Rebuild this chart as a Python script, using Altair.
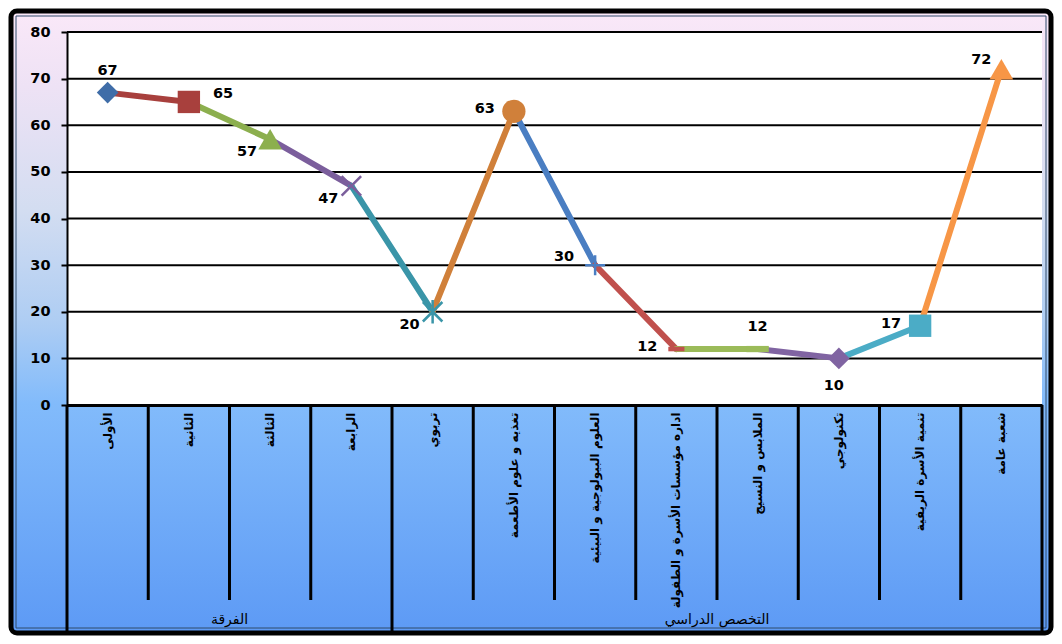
import altair as alt
import pandas as pd

# ---------------- data ----------------
categories = [
    "الأولى", "الثانية", "الثالثة", "الرابعة",
    "تربوي", "تغذيه و علوم الأطعمة", "العلوم البيولوجية و البيئية",
    "اداره مؤسسات الأسرة و الطفولة", "الملابس و النسيج", "تكنولوجي",
    "تنمية الأسرة الريفية", "شعبة عامة",
]
values = [67, 65, 57, 47, 20, 63, 30, 12, 12, 10, 17, 72]
group_names = ["الفرقة", "التخصص الدراسي"]
group_sizes = [4, 8]
point_colors = ["#3F6DA8", "#A8403D", "#8CAF4E", "#7B5E9C", "#3A95A8", "#D0803A",
                "#4A7EC2", "#C0504D", "#9BBB59", "#8064A2", "#4BACC6", "#F79646"]
marker_kinds = ["diamond", "square", "triangle", "x", "star", "circle",
                "plus", "dash_s", "dash_l", "diamond", "square", "triangle"]
label_place = ["above", "right", "lower_left", "lower_left", "lower_left", "left",
               "upper_left", "left", "above", "below", "left", "upper_left_near"]
y_ticks = [0, 10, 20, 30, 40, 50, 60, 70, 80]

# ---------------- styles ----------------
W, H = 975, 373
FONT = "DejaVu Sans"
MARKERS = {  # kind -> (shape, filled, size)
    "diamond": ("diamond", True, 470),
    "square": ("square", True, 500),
    "triangle": ("triangle-up", True, 560),
    "circle": ("circle", True, 540),
    "x": ("M-1,-1L1,1M-1,1L1,-1", False, 380),
    "star": ("M-1,-1L1,1M-1,1L1,-1M0,-1.2L0,1.2", False, 380),
    "plus": ("M-1,0L1,0M0,-1L0,1", False, 400),
    "dash_s": ("M-1,-0.28L1,-0.28L1,0.28L-1,0.28Z", True, 260),
    "dash_l": ("M-1,-0.28L1,-0.28L1,0.28L-1,0.28Z", True, 500),
}
PLACES = {  # key -> (dx, dy, align)
    "above": (0, -22, "center"),
    "below": (-5, 28, "center"),
    "right": (24, -8, "left"),
    "lower_left": (-13, 13, "right"),
    "left": (-19, -2, "right"),
    "upper_left": (-21, -8, "right"),
    "upper_left_near": (-10, -9, "right"),
}

# ---------------- tables ----------------
pts = pd.DataFrame({
    "cat": categories,
    "value": values,
    "color": point_colors,
    "shape": [MARKERS[k][0] for k in marker_kinds],
    "filled": [MARKERS[k][1] for k in marker_kinds],
    "size": [MARKERS[k][2] for k in marker_kinds],
    "place": label_place,
    "label": [str(v) for v in values],
})

seg_rows = []
for i in range(1, len(values)):
    for j, o in ((i - 1, 0), (i, 1)):
        seg_rows.append({"seg": i, "cat": categories[j], "value": values[j],
                         "color": point_colors[i], "ord": o})
segs = pd.DataFrame(seg_rows)

one = pd.DataFrame({"k": [0]})
grid = pd.DataFrame({"value": y_ticks[1:]})

starts = [0]
for s in group_sizes[:-1]:
    starts.append(starts[-1] + s)
group_bounds = pd.DataFrame({"cat": [categories[s] for s in starts]})
end_bound = pd.DataFrame({"cat": [categories[-1]]})
inner_div = pd.DataFrame({"cat": [categories[i] for i in range(1, len(categories)) if i not in starts]})
group_lab = pd.DataFrame({
    "cat": [categories[s + n // 2] for s, n in zip(starts, group_sizes)],
    "name": group_names,
})

x_scale = alt.Scale(type="band", domain=categories, paddingInner=0, paddingOuter=0)
y_scale = alt.Scale(domain=[0, 80], nice=False)

X = alt.X("cat:N", sort=categories, scale=x_scale,
          axis=alt.Axis(title=None, labelAngle=270, labelAlign="right", labelBaseline="middle",
                        labelFont=FONT, labelFontSize=12, labelFontWeight="bold",
                        labelColor="black", labelPadding=7, labelLimit=400, ticks=False,
                        domainColor="black", domainWidth=3, zindex=1))
Y = alt.Y("value:Q", scale=y_scale,
          axis=alt.Axis(title=None, values=y_ticks, grid=False, labelFont=FONT,
                        labelFontWeight="bold", labelFontSize=14.5, labelColor="black",
                        labelPadding=11, tickColor="black", tickWidth=2, tickSize=6,
                        domainColor="black", domainWidth=2, zindex=1))

# ---------------- decoration ----------------
frame = alt.Chart(one).mark_rect(
    fill=alt.Gradient(gradient="linear", x1=0, x2=0, y1=0, y2=1, stops=[
        alt.GradientStop(offset=0, color="#FAE8F8"),
        alt.GradientStop(offset=0.12, color="#EEE2F5"),
        alt.GradientStop(offset=0.32, color="#D3DDF1"),
        alt.GradientStop(offset=0.5, color="#AECDF3"),
        alt.GradientStop(offset=0.63, color="#82BBFB"),
        alt.GradientStop(offset=1, color="#5D9AF5"),
    ]),
    stroke="black", strokeWidth=5, cornerRadius=6,
).encode(x=alt.value(-56), x2=alt.value(W + 9), y=alt.value(-21), y2=alt.value(H + 228))

inner = alt.Chart(one).mark_rect(fillOpacity=0, stroke="#2E4A6B", strokeWidth=1).encode(
    x=alt.value(-51), x2=alt.value(W + 4), y=alt.value(-16), y2=alt.value(H + 223))

plot_bg = alt.Chart(one).mark_rect(fill="white").encode(
    x=alt.value(0), x2=alt.value(W), y=alt.value(0), y2=alt.value(H))

grid_rules = alt.Chart(grid).mark_rule(color="black", strokeWidth=2).encode(
    y=alt.Y("value:Q", scale=y_scale), x=alt.value(0), x2=alt.value(W))

div_short = alt.Chart(inner_div).mark_rule(color="black", strokeWidth=3).encode(
    x=alt.X("cat:N", sort=categories, scale=x_scale, bandPosition=0),
    y=alt.value(H), y2=alt.value(H + 195))
div_long = alt.Chart(group_bounds).mark_rule(color="black", strokeWidth=3).encode(
    x=alt.X("cat:N", sort=categories, scale=x_scale, bandPosition=0),
    y=alt.value(H), y2=alt.value(H + 227))
div_end = alt.Chart(end_bound).mark_rule(color="black", strokeWidth=3).encode(
    x=alt.X("cat:N", sort=categories, scale=x_scale, bandPosition=1),
    y=alt.value(H), y2=alt.value(H + 227))
grp_text = alt.Chart(group_lab).mark_text(font=FONT, fontSize=14, color="black",
                                          baseline="middle", align="center").encode(
    x=alt.X("cat:N", sort=categories, scale=x_scale, bandPosition=0),
    y=alt.value(H + 215), text="name:N")

# ---------------- data marks ----------------
lines = alt.Chart(segs).mark_line(strokeWidth=6, strokeCap="round").encode(
    x=alt.X("cat:N", sort=categories, scale=x_scale),
    y=alt.Y("value:Q", scale=y_scale),
    detail="seg:N", order="ord:Q",
    color=alt.Color("color:N", scale=None))

base_pts = alt.Chart(pts).encode(
    x=alt.X("cat:N", sort=categories, scale=x_scale),
    y=alt.Y("value:Q", scale=y_scale),
    shape=alt.Shape("shape:N", scale=None),
    size=alt.Size("size:Q", scale=None),
    color=alt.Color("color:N", scale=None))
filled_pts = base_pts.mark_point(filled=True, opacity=1).transform_filter("datum.filled")
stroked_pts = base_pts.mark_point(filled=False, opacity=1, strokeWidth=2.5).transform_filter("!datum.filled")

label_layers = []
for key, (dx, dy, al) in PLACES.items():
    label_layers.append(
        alt.Chart(pts).mark_text(dx=dx, dy=dy, align=al, baseline="middle", font=FONT,
                                 fontSize=14.5, fontWeight="bold", color="black")
        .encode(x=alt.X("cat:N", sort=categories, scale=x_scale),
                y=alt.Y("value:Q", scale=y_scale), text="label:N")
        .transform_filter(alt.datum.place == key))

axes_layer = alt.Chart(pts).mark_point(opacity=0).encode(x=X, y=Y)

chart = alt.layer(
    frame, inner, plot_bg, grid_rules, div_short, div_long, div_end, grp_text,
    lines, filled_pts, stroked_pts, *label_layers, axes_layer,
).properties(
    width=W, height=H,
    autosize=alt.AutoSizeParams(type="none"),
    padding={"left": 59, "top": 24, "right": 12, "bottom": 231},
).configure_view(strokeWidth=0)

chart.save("out.html", embed_options={"renderer": "svg", "actions": False})
